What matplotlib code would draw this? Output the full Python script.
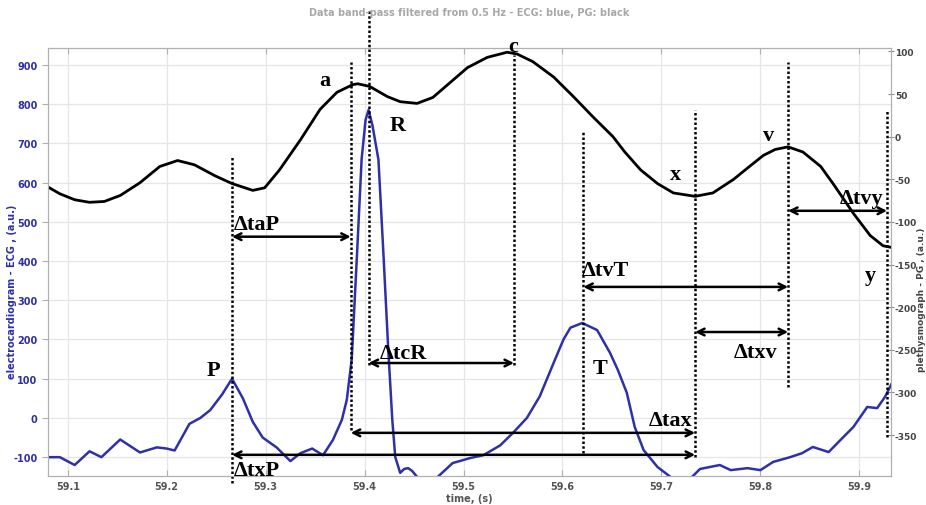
import matplotlib
matplotlib.use('Agg')
import matplotlib.pyplot as plt

plt.rcParams['axes.unicode_minus'] = False

# ECG trace (blue, left axis)
ecg_t = [59.080, 59.092, 59.107, 59.122, 59.134, 59.153, 59.173, 59.190, 59.200, 59.208,
         59.223, 59.234, 59.244, 59.256, 59.266, 59.277, 59.287, 59.297, 59.311, 59.325,
         59.335, 59.347, 59.358, 59.368, 59.377, 59.382, 59.387, 59.392, 59.397, 59.401,
         59.404, 59.408, 59.414, 59.419, 59.424, 59.428, 59.431, 59.436, 59.440, 59.444,
         59.448, 59.453, 59.461, 59.468, 59.474, 59.489, 59.507, 59.520, 59.537, 59.550,
         59.564, 59.577, 59.591, 59.601, 59.608, 59.620, 59.635, 59.648, 59.656, 59.665,
         59.673, 59.682, 59.696, 59.709, 59.719, 59.729, 59.739, 59.759, 59.770, 59.787,
         59.800, 59.813, 59.830, 59.842, 59.853, 59.869, 59.881, 59.894, 59.908, 59.918,
         59.926, 59.933]
ecg_v = [-100, -100, -120, -85, -100, -55, -88, -75, -78, -83,
         -15, 0, 20, 60, 100, 50, -10, -50, -75, -110,
         -90, -78, -95, -56, -5, 46, 150, 400, 660, 760,
         785, 745, 658, 420, 170, -5, -100, -140, -130, -128,
         -135, -150, -175, -170, -150, -115, -102, -95, -70, -38,
         0, 55, 140, 200, 230, 242, 224, 166, 122, 64,
         -23, -82, -125, -150, -165, -155, -130, -120, -133, -128,
         -133, -112, -100, -90, -74, -87, -56, -23, 28, 25,
         54, 89]

# PG trace (black, right axis)
pg_t = [59.080, 59.092, 59.107, 59.122, 59.137, 59.153, 59.173, 59.193, 59.211, 59.228,
        59.249, 59.266, 59.287, 59.299, 59.314, 59.335, 59.355, 59.372, 59.388, 59.393,
        59.405, 59.423, 59.436, 59.453, 59.469, 59.486, 59.504, 59.524, 59.544, 59.554,
        59.570, 59.591, 59.611, 59.631, 59.651, 59.663, 59.679, 59.696, 59.712, 59.734,
        59.752, 59.773, 59.790, 59.803, 59.815, 59.828, 59.843, 59.861, 59.874, 59.894,
        59.911, 59.924, 59.933]
pg_v = [-59, -67, -74, -77, -76, -69, -54, -35, -28, -33,
        -46, -55, -63, -60, -39, -4, 32, 52, 61, 62,
        59, 47, 41, 39, 46, 63, 81, 93, 99, 97,
        88, 70, 47, 23, 0, -18, -39, -55, -66, -70,
        -66, -50, -34, -22, -15, -12, -18, -35, -56, -90,
        -116, -128, -130]

# dotted marker lines: time, top, bottom (ECG units)
mark_t = [59.266, 59.386, 59.404, 59.551, 59.621, 59.734, 59.828, 59.928]
mark_top = [666, 908, 1041, 926, 730, 786, 908, 786]
mark_bot = [-166, -31, 135, 135, -89, -99, 79, -48]

# interval arrows: start, end, level, label, label x, label y, alignment
arr_t0 = [59.266, 59.404, 59.621, 59.734, 59.828, 59.386, 59.266]
arr_t1 = [59.386, 59.551, 59.828, 59.828, 59.928, 59.734, 59.734]
arr_y = [462, 140, 334, 219, 528, -38, -94]
arr_lab = ['ΔtaP', 'ΔtcR', 'ΔtvT', 'Δtxv', 'Δtvy', 'Δtax', 'ΔtxP']
lab_x = [59.2675, 59.4155, 59.619, 59.7726, 59.924, 59.731, 59.2675]
lab_y = [495, 166, 378, 168, 561, -5, -133]
lab_ha = ['left', 'left', 'left', 'left', 'right', 'right', 'left']

# wave point letters
pt_lab = ['a', 'R', 'c', 'P', 'T', 'x', 'v', 'y']
pt_x = [59.360, 59.433, 59.550, 59.247, 59.638, 59.714, 59.808, 59.911]
pt_y = [862, 747, 949, 122, 127, 622, 722, 365]

blue = '#2f2fa8'

fig = plt.figure(figsize=(9.26, 5.06), dpi=100)
ax = fig.add_axes([0.0518, 0.0573, 0.9104, 0.8459])
ax2 = ax.twinx()

ax.plot(ecg_t, ecg_v, color=blue, lw=1.8, zorder=3)
ax2.plot(pg_t, pg_v, color='black', lw=2.0)

ax.set_xlim(59.080, 59.932)
ax.set_ylim(-148, 943)
ax2.set_ylim(-398, 104)

ax.set_xticks([59.1, 59.2, 59.3, 59.4, 59.5, 59.6, 59.7, 59.8, 59.9])
ax.set_yticks(range(-100, 901, 100))
ax2.set_yticks(range(-350, 101, 50))
ax.grid(True, color='#e6e6e6', lw=0.9)
ax.set_axisbelow(True)

for a in (ax, ax2):
    for s in a.spines.values():
        s.set_color('#b0b0b0')
ax.tick_params(axis='x', colors='#b0b0b0', labelcolor='#555555', labelsize=7,
               direction='in', top=True, length=4)
ax.tick_params(axis='y', colors='#b0b0b0', labelcolor=blue, labelsize=7, length=4)
ax2.tick_params(axis='y', colors='#888888', labelcolor='#444444', labelsize=6.5,
                direction='inout', length=5, pad=0.3)
for lab in ax.get_xticklabels() + ax.get_yticklabels() + ax2.get_yticklabels():
    lab.set_fontweight('bold')

# annotations on top of both curves, in ECG coordinates
for t, y0, y1 in zip(mark_t, mark_bot, mark_top):
    ax2.plot([t, t], [y0, y1], transform=ax.transData, color='black',
             lw=1.8, linestyle=(0, (1, 0.9)), clip_on=False)

for t0, t1, y in zip(arr_t0, arr_t1, arr_y):
    ax2.annotate('', xy=(t1, y), xytext=(t0, y), xycoords=ax.transData,
                 textcoords=ax.transData,
                 arrowprops=dict(arrowstyle='<->', color='black', lw=1.8,
                                 shrinkA=0, shrinkB=0, mutation_scale=12))

for lab, x, y, ha in zip(arr_lab, lab_x, lab_y, lab_ha):
    ax2.text(x, y, lab, transform=ax.transData, ha=ha, va='center',
             fontsize=16, fontweight='bold', family='Liberation Serif')

for lab, x, y in zip(pt_lab, pt_x, pt_y):
    ax2.text(x, y, lab, transform=ax.transData, ha='center', va='center',
             fontsize=16, fontweight='bold', family='Liberation Serif', clip_on=False)

fig.text(0.507, 1 - 13 / 506, 'Data band-pass filtered from 0.5 Hz - ECG: blue, PG: black',
         ha='center', va='center', fontsize=7, color='#a8a8a8', fontweight='bold')
fig.text(0.507, 1 - 499 / 506, 'time, (s)', ha='center', va='center',
         fontsize=7, color='#555555', fontweight='bold')
fig.text(12 / 926, 1 - 292 / 506, 'electrocardiogram - ECG , (a.u.)', rotation=90,
         ha='center', va='center', fontsize=7, color=blue, fontweight='bold')
fig.text(922 / 926, 1 - 300 / 506, 'plethysmograph - PG , (a.u.)', rotation=90,
         ha='center', va='center', fontsize=6.5, color='#444444', fontweight='bold')

fig.savefig('out.png', dpi=100)
